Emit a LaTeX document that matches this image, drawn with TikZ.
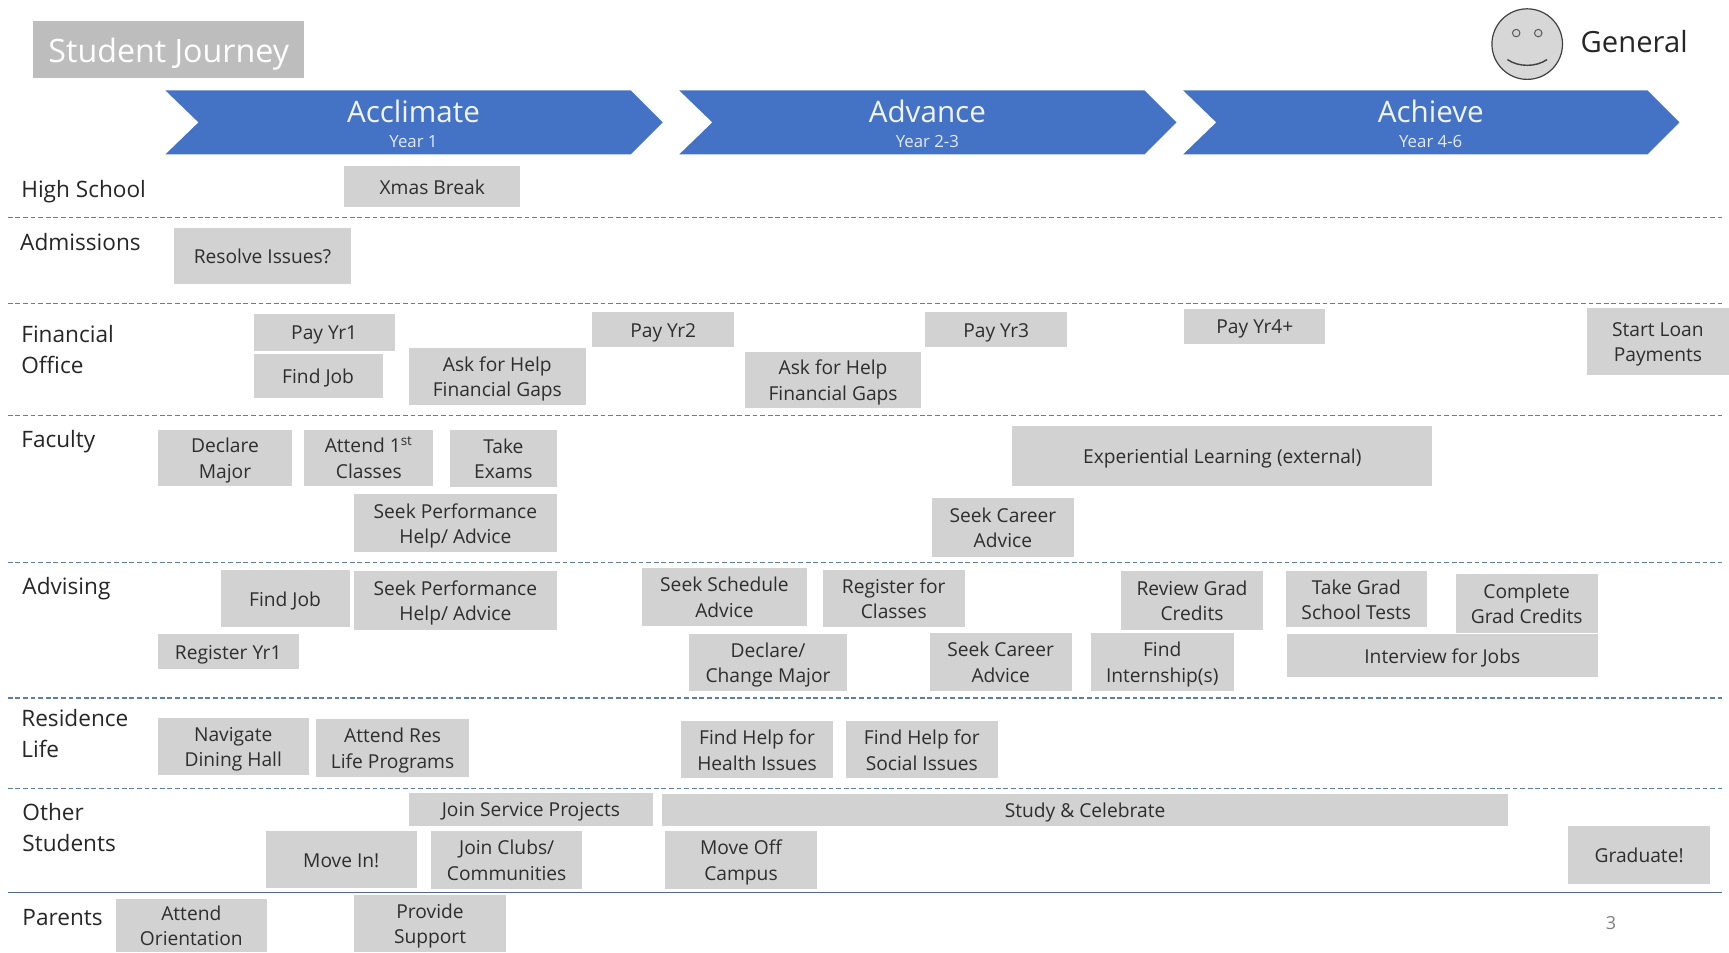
\documentclass[tikz,border=0pt]{standalone}
\usepackage{fontspec}
\setmainfont{Open Sans}
\newcommand{\uu}{0.55135pt}
\newcommand{\topstrut}{\rule{0pt}{1.03em}}
\newcommand{\botstrut}{\rule[-0.25em]{0pt}{0.25em}}
\definecolor{boxgray}{HTML}{D2D2D2}
\definecolor{titlegray}{HTML}{BDBDBD}
\definecolor{bandblue}{HTML}{4472C4}
\definecolor{inktext}{HTML}{2E2E2E}
\definecolor{rulecol}{HTML}{5B7FA8}
\tikzset{
  evenstrut/.style={execute at begin node=\topstrut,execute at end node=\botstrut},
  bx/.style={fill=boxgray,text=inktext,inner sep=0pt,align=center,font=\fontsize{9.6}{12.7}\selectfont},
  lanelabel/.style={anchor=west,text=black!85,inner sep=0pt,align=left,font=\fontsize{11.3}{15.4}\selectfont},
  dashrule/.style={rulecol,line width=0.6pt,dash pattern=on 2.4pt off 1.4pt},
  band/.style={fill=bandblue,draw=none},
  bandtitle/.style={text=white!92!bandblue,inner sep=0pt,evenstrut,font=\fontsize{14.8}{16}\selectfont},
  bandsub/.style={text=white!85!bandblue,inner sep=0pt,evenstrut,font=\fontsize{8.4}{9}\selectfont},
}
\newcommand{\bxnode}[6]{\node[bx,minimum width={(#4-#2)*\uu},minimum height={(#5-#3)*\uu}] (#1) at ({(#2+#4)/2},{(#3+#5)/2}) {\topstrut #6\botstrut};}
\newcommand{\lanenode}[4]{\node[lanelabel] (#1) at (#2,#3) {\topstrut #4\botstrut};}
\newcommand{\bandshape}[6]{%
  \fill[band] (#1,82) -- (#2,82) -- (#3,111) -- (#2,140) -- (#1,140) -- (#4,111) -- cycle;
  \node[bandtitle] (#5t) at ({(#1+#3)/2-0.5},101) {#5};
  \node[bandsub] (#5s) at ({(#1+#3)/2-0.5},128) {#6};}
\begin{document}
\begin{tikzpicture}[x=\uu,y=-\uu]
\useasboundingbox (0,0) rectangle (1568,863.4);
% title
\node[fill=titlegray,text=white,inner sep=0pt,minimum width={246*\uu},minimum height={52*\uu},evenstrut,font=\fontsize{16.1}{18}\selectfont] (title) at (153,45) {Student Journey};
% smiley
\draw[fill=boxgray!90!white,draw=black!75,line width=0.6pt] (1385,40) circle [radius=32];
\draw[fill=boxgray,draw=black!65,line width=0.5pt] (1375,30) circle [radius=3.4];
\draw[fill=boxgray,draw=black!65,line width=0.5pt] (1395,30) circle [radius=3.4];
\draw[black!75,line width=0.7pt] (1367,54) .. controls (1377,61) and (1393,61) .. (1403,54);
\node[text=black!85,inner sep=0pt,evenstrut,font=\fontsize{14.6}{18}\selectfont] (general) at (1482,37) {General};
% bands
\bandshape{150}{572}{601}{180}{Acclimate}{Year 1}
\bandshape{616}{1038}{1067}{646}{Advance}{Year 2-3}
\bandshape{1073}{1494}{1523}{1103}{Achieve}{Year 4-6}
% rules
\foreach \yy in {197,275.5,377,510,633,715}{\draw[dashrule] (7,\yy) -- (1562,\yy);}
\draw[rulecol!85!black,line width=0.8pt] (7,809.5) -- (1562,809.5);
% lane labels
\lanenode{lhs}{19}{171}{High School}
\lanenode{lad}{18}{219}{Admissions}
\lanenode{lfi}{19}{317}{Financial\\Office}
\lanenode{lfa}{19}{398}{Faculty}
\lanenode{lav}{20}{531}{Advising}
\lanenode{lre}{19}{665}{Residence\\Life}
\lanenode{lot}{20}{750}{Other\\Students}
\lanenode{lpa}{20}{831}{Parents}
% boxes
\bxnode{b01}{312}{151}{472}{188}{Xmas Break}
\bxnode{b02}{158}{207}{318}{258}{Resolve Issues?}
\bxnode{b03}{230}{285}{358}{318}{Pay Yr1}
\bxnode{b04}{230}{321}{347}{361}{Find Job}
\bxnode{b05}{371}{316}{531}{367}{Ask for Help\\Financial Gaps}
\bxnode{b06}{537}{283}{666}{315}{Pay Yr2}
\bxnode{b07}{676}{319}{835}{370}{Ask for Help\\Financial Gaps}
\bxnode{b08}{839}{283}{968}{315}{Pay Yr3}
\bxnode{b09}{1074}{280}{1202}{312}{Pay Yr4+}
\bxnode{b10}{1439}{279}{1568}{340}{Start Loan\\Payments}
\bxnode{b11}{143}{390}{265}{441}{Declare\\Major}
\bxnode{b12}{276}{390}{393}{441}{Attend 1\textsuperscript{st}\\Classes}
\bxnode{b13}{408}{390}{505}{442}{Take\\Exams}
\bxnode{b14}{918}{386}{1299}{441}{Experiential Learning (external)}
\bxnode{b15}{321}{448}{505}{501}{Seek Performance\\Help/ Advice}
\bxnode{b16}{845}{452}{974}{505}{Seek Career\\Advice}
\bxnode{b17}{200}{517}{317}{569}{Find Job}
\bxnode{b18}{321}{518}{505}{571}{Seek Performance\\Help/ Advice}
\bxnode{b19}{582}{515}{732}{568}{Seek Schedule\\Advice}
\bxnode{b20}{746}{517}{875}{569}{Register for\\Classes}
\bxnode{b21}{1017}{518}{1145}{571}{Review Grad\\Credits}
\bxnode{b22}{1166}{518}{1294}{569}{Take Grad\\School Tests}
\bxnode{b23}{1320}{521}{1449}{574}{Complete\\Grad Credits}
\bxnode{b24}{143}{575}{271}{607}{Register Yr1}
\bxnode{b25}{625}{575}{768}{627}{Declare/\\Change Major}
\bxnode{b26}{843}{574}{972}{627}{Seek Career\\Advice}
\bxnode{b27}{989}{574}{1119}{627}{Find\\Internship(s)}
\bxnode{b28}{1167}{575}{1449}{614}{Interview for Jobs}
\bxnode{b29}{143}{651}{280}{703}{Navigate\\Dining Hall}
\bxnode{b30}{287}{652}{425}{705}{Attend Res\\Life Programs}
\bxnode{b31}{618}{654}{755}{706}{Find Help for\\Health Issues}
\bxnode{b32}{767}{654}{905}{706}{Find Help for\\Social Issues}
\bxnode{b33}{371}{719}{592}{749}{Join Service Projects}
\bxnode{b34}{600}{720}{1368}{749}{Study \& Celebrate}
\bxnode{b35}{241}{754}{378}{805}{Move In!}
\bxnode{b36}{391}{754}{528}{806}{Join Clubs/\\Communities}
\bxnode{b37}{603}{754}{741}{806}{Move Off\\Campus}
\bxnode{b38}{1422}{749}{1551}{802}{Graduate!}
\bxnode{b39}{105}{815}{242}{863.4}{Attend\\Orientation}
\bxnode{b40}{321}{812}{459}{863.4}{Provide\\Support}
\node[text=black!50,inner sep=0pt,font=\fontsize{9}{11}\selectfont] (pagenum) at (1461,837) {3};
\end{tikzpicture}
\end{document}
